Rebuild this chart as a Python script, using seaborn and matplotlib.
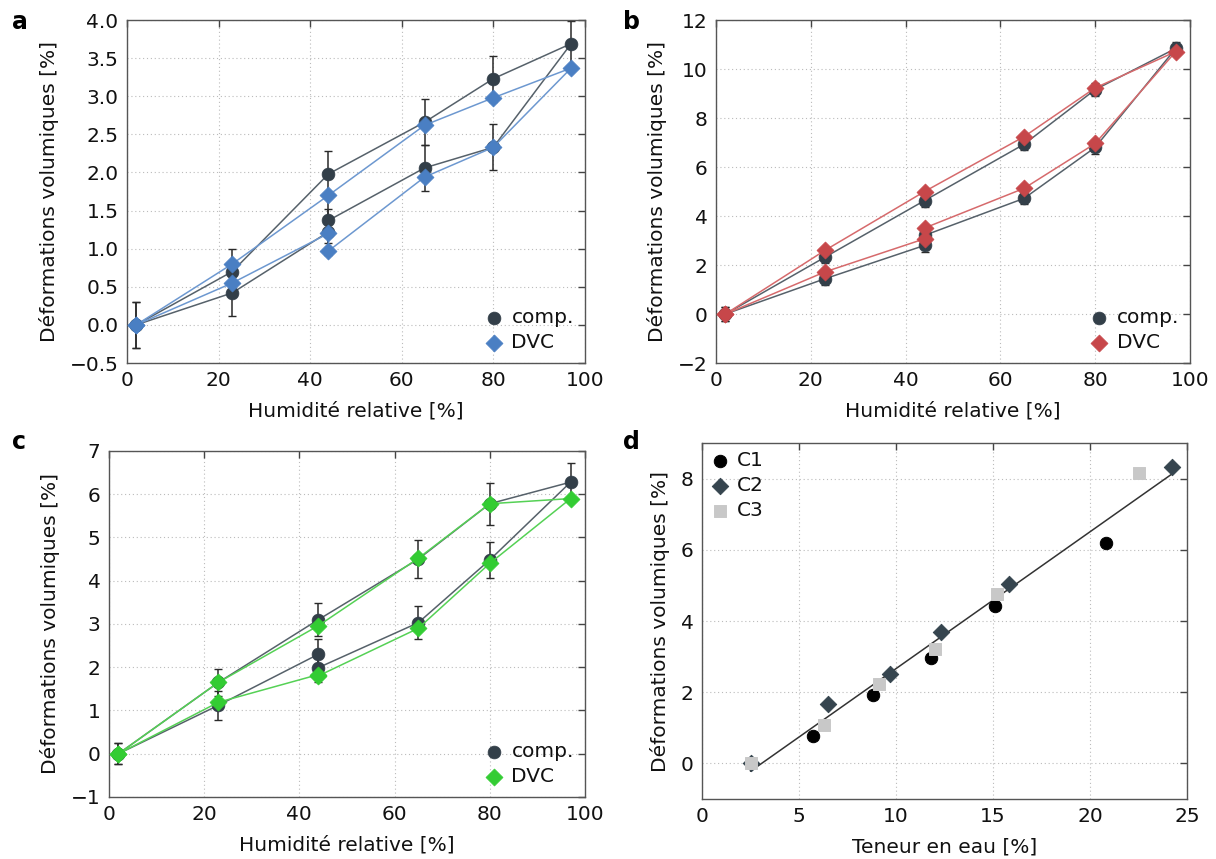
import numpy as np
import pandas as pd
import matplotlib
matplotlib.use("Agg")
import matplotlib.pyplot as plt
import seaborn as sns

# ---------------- data ----------------
rh = [2, 23, 44, 44, 65, 80, 97, 80, 65, 44, 23, 2]

a_comp = [0, 0.42, 1.22, 1.37, 2.06, 2.33, 3.69, 3.23, 2.66, 1.98, 0.70, 0]
a_comp_err = [0.30] * 12
a_dvc = [0, 0.55, 1.20, 0.97, 1.94, 2.33, 3.37, 2.98, 2.62, 1.70, 0.80, 0]

b_comp = [0, 1.44, 2.80, 3.21, 4.72, 6.80, 10.84, 9.16, 6.93, 4.63, 2.32, 0]
b_comp_err = [0.30, 0.25, 0.25, 0.25, 0.25, 0.25, 0.25, 0.25, 0.25, 0.25, 0.25, 0.30]
b_dvc = [0, 1.72, 3.07, 3.51, 5.13, 6.96, 10.71, 9.23, 7.24, 5.00, 2.60, 0]

c_comp = [0, 1.12, 2.30, 1.99, 3.03, 4.48, 6.28, 5.78, 4.50, 3.10, 1.65, 0]
c_comp_err = [0.24, 0.33, 0.35, 0.33, 0.38, 0.42, 0.45, 0.49, 0.44, 0.38, 0.32, 0.24]
c_dvc = [0, 1.19, 1.83, 1.80, 2.90, 4.40, 5.90, 5.78, 4.52, 2.96, 1.65, 0]

d_c1_x = [2.5, 5.7, 8.8, 11.8, 15.1, 20.8]
d_c1_y = [0, 0.77, 1.93, 2.95, 4.42, 6.20]
d_c2_x = [2.5, 6.5, 9.7, 12.3, 15.8, 24.2]
d_c2_y = [0, 1.67, 2.51, 3.69, 5.03, 8.32]
d_c3_x = [2.5, 6.3, 9.1, 12.0, 15.2, 22.5]
d_c3_y = [0, 1.07, 2.22, 3.22, 4.76, 8.15]

ylabel = "Déformations volumiques [%]"
xlabel_rh = "Humidité relative [%]"
xlabel_w = "Teneur en eau [%]"

# ---------------- style ----------------
sns.set_theme(style="white")
plt.rcParams["font.family"] = ["DejaVu Sans"]
FS = 14.5
plt.rcParams.update({
    "xtick.direction": "in", "ytick.direction": "in",
    "xtick.top": True, "ytick.right": True,
    "xtick.major.size": 5, "ytick.major.size": 5,
    "xtick.color": "#444444", "ytick.color": "#444444",
    "xtick.labelcolor": "#111111", "ytick.labelcolor": "#111111",
    "xtick.labelsize": FS, "ytick.labelsize": FS,
    "axes.labelsize": FS, "axes.edgecolor": "#555555",
    "axes.labelcolor": "#111111", "text.color": "#111111",
    "axes.linewidth": 1.0,
})

fig = plt.figure(figsize=(12.16, 8.59), dpi=100)
ax_a = fig.add_axes([0.1044, 0.5774, 0.3766, 0.3993])
ax_b = fig.add_axes([0.5888, 0.5774, 0.3898, 0.3993])
ax_c = fig.add_axes([0.0896, 0.0722, 0.3914, 0.4028])
ax_d = fig.add_axes([0.5773, 0.0698, 0.3989, 0.4144])

COMP_M = "#333f49"
COMP_L = "#56616a"


def style_axes(ax):
    ax.grid(True, linestyle=(0, (1, 2.5)), color="#bbbbbb", linewidth=0.8)
    ax.set_axisbelow(True)
    for s in ax.spines.values():
        s.set_color("#555555")
    ax.tick_params(which="both", top=True, right=True, direction="in",
                   length=5, width=1.0, pad=6)


def rh_panel(ax, comp, err, dvc, mcol, lcol, ylim, yticks, yfmt):
    df = pd.DataFrame({"rh": rh, "comp": comp, "dvc": dvc, "err": err})
    sns.lineplot(data=df, x="rh", y="comp", sort=False, estimator=None,
                 color=COMP_L, lw=1.1, ax=ax, legend=False, zorder=2)
    ax.errorbar(df["rh"], df["comp"], yerr=df["err"], fmt="none",
                ecolor="#2a2a2a", elinewidth=1.1, capsize=3, capthick=1,
                zorder=2.5)
    sns.scatterplot(data=df, x="rh", y="comp", marker="o", s=85,
                    color=COMP_M, edgecolor=COMP_M, linewidth=0.5, ax=ax,
                    zorder=3, label="comp.")
    sns.lineplot(data=df, x="rh", y="dvc", sort=False, estimator=None,
                 color=lcol, lw=1.1, ax=ax, legend=False, zorder=4)
    sns.scatterplot(data=df, x="rh", y="dvc", marker="D", s=75,
                    color=mcol, edgecolor=mcol, linewidth=0.5, ax=ax,
                    zorder=5, label="DVC")
    ax.set_xlim(0, 100)
    ax.set_ylim(*ylim)
    ax.set_yticks(yticks)
    ax.set_yticklabels([yfmt.format(v).replace("-", "\u2212") for v in yticks])
    ax.set_xticks([0, 20, 40, 60, 80, 100])
    ax.set_xlabel(xlabel_rh, labelpad=8)
    ax.set_ylabel(ylabel, labelpad=8)
    style_axes(ax)
    ax.legend(loc="lower right", frameon=False, fontsize=FS,
              handlelength=1.0, handletextpad=0.35, borderaxespad=0.25,
              labelspacing=0.3, borderpad=0.3)


rh_panel(ax_a, a_comp, a_comp_err, a_dvc, "#4a7fc3", "#6d98d0",
         (-0.5, 4.0), np.arange(-0.5, 4.01, 0.5), "{:.1f}")
rh_panel(ax_b, b_comp, b_comp_err, b_dvc, "#c7474a", "#d66a6c",
         (-2, 12), np.arange(-2, 12.1, 2), "{:.0f}")
rh_panel(ax_c, c_comp, c_comp_err, c_dvc, "#33cc33", "#55d155",
         (-1, 7), np.arange(-1, 7.1, 1), "{:.0f}")

# panel d
dfd = pd.concat([
    pd.DataFrame({"w": d_c1_x, "e": d_c1_y, "s": "C1"}),
    pd.DataFrame({"w": d_c2_x, "e": d_c2_y, "s": "C2"}),
    pd.DataFrame({"w": d_c3_x, "e": d_c3_y, "s": "C3"}),
], ignore_index=True)
sns.regplot(data=dfd, x="w", y="e", scatter=False, ci=None, truncate=True,
            line_kws={"color": "#333333", "lw": 1.1}, ax=ax_d)
sns.scatterplot(x=d_c1_x, y=d_c1_y, marker="o", s=80, color="#000000",
                edgecolor="#000000", ax=ax_d, label="C1", zorder=3)
sns.scatterplot(x=d_c2_x, y=d_c2_y, marker="D", s=70, color="#36454f",
                edgecolor="#36454f", ax=ax_d, label="C2", zorder=3)
sns.scatterplot(x=d_c3_x, y=d_c3_y, marker="s", s=75, color="#c8c8c8",
                edgecolor="#c8c8c8", ax=ax_d, label="C3", zorder=3)
ax_d.set_xlim(0, 25)
ax_d.set_ylim(-1, 9)
ax_d.set_xticks([0, 5, 10, 15, 20, 25])
ax_d.set_yticks([0, 2, 4, 6, 8])
ax_d.set_xlabel(xlabel_w, labelpad=8)
ax_d.set_ylabel(ylabel, labelpad=8)
style_axes(ax_d)
ax_d.legend(loc="upper left", frameon=False, fontsize=FS, handlelength=1.0,
            handletextpad=0.35, borderaxespad=0.1, labelspacing=0.3,
            borderpad=0.3)

# panel letters
for txt, (x, y) in zip("abcd", [(0.010, 0.974), (0.512, 0.974),
                                (0.010, 0.486), (0.512, 0.486)]):
    fig.text(x, y, txt, fontsize=17, fontweight="bold", ha="left",
             va="center", color="black")

fig.savefig("out.png", dpi=100)
